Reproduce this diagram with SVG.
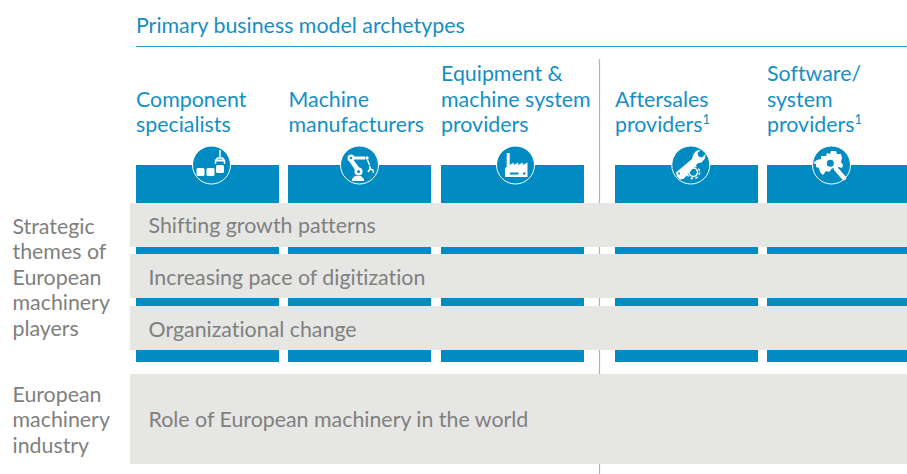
<svg xmlns="http://www.w3.org/2000/svg" width="907" height="474" viewBox="0 0 907 474">
<style>
text{font-family:Lato,"Open Sans","Liberation Sans",sans-serif;font-size:21.36px;font-variant-ligatures:none}
.h{fill:#1490c6}
.g{fill:#808080}
.b{fill:#008cc2}
.band{fill:#e6e6e4}
.disc{fill:#008cc2;stroke:#fff;stroke-width:1}
.w{fill:#fff}
.ws{fill:none;stroke:#fff;stroke-width:1.500}
.sup{font-size:13px}
</style>
<rect width="907" height="474" fill="#fff"/>
<g id="connectors">
<line x1="136" y1="46.500" x2="907" y2="46.500" stroke="#2ba0d0" stroke-width="1"/>
<line x1="599.500" y1="59" x2="599.500" y2="474" stroke="#b2b2b2" stroke-width="1.200"/>
</g>
<text class="h" x="136" y="33">Primary business model archetypes</text>
<g id="col1">
<rect class="b" x="136" y="165" width="143" height="197"/>
<text class="h" x="136" y="107">Component</text><text class="h" x="136" y="132">specialists</text>
<circle class="disc" cx="211.500" cy="165" r="19"/>
<rect class="w" x="196.500" y="168" width="8" height="8" rx="1.500"/><rect class="w" x="206.500" y="168" width="8" height="8" rx="1.500"/><rect class="w" x="216" y="165" width="8" height="8" rx="1.500"/>
<path class="ws" stroke-width="2" d="M220 150v7M215.500 164v-3l2-3h5l2 3v3"/>
<rect class="w" x="215" y="159.500" width="10" height="2"/>
</g>
<g id="col2">
<rect class="b" x="288" y="165" width="143" height="197"/>
<text class="h" x="288.500" y="107">Machine</text><text class="h" x="288.500" y="132">manufacturers</text>
<circle class="disc" cx="359.500" cy="165" r="19"/>
<path class="w" d="M352 181v-2l3-3h6l3 3v2zM350 156.500h15v3h-15zM348.500 160l3.500-2 9 12-4 3z"/>
<circle class="w" cx="351" cy="158" r="3.500"/><circle class="w" cx="358.500" cy="171.500" r="4"/><circle class="b" cx="358.500" cy="171.500" r="1.500"/><circle class="b" cx="351" cy="158" r="1.200"/>
<circle class="w" cx="367" cy="158" r="1.700"/><path class="ws" stroke-width="1.400" d="M367.500 160l2 5M369.500 166l1 3M368 172l2-3 3 1 .5 3"/>
</g>
<g id="col3">
<rect class="b" x="441" y="165" width="143" height="197"/>
<text class="h" x="441" y="81">Equipment &amp;</text><text class="h" x="441" y="106.500">machine system</text><text class="h" x="441" y="132">providers</text>
<circle class="disc" cx="515.500" cy="165" r="19"/>
<path class="w" d="M505 177v-9l1.700-1v-14h3v12l4-2.500v2.500l4.500-2.500v2.500l4.500-2.500v2.500l4.800-2.500v14.500z"/>
<rect class="b" x="510" y="172.500" width="8.500" height="2"/><rect class="b" x="523" y="172.500" width="2.500" height="2"/>
</g>
<g id="col4">
<rect class="b" x="615" y="165" width="143" height="197"/>
<text class="h" x="615" y="107">Aftersales</text><text class="h" x="615" y="132">providers<tspan class="sup" dy="-8">1</tspan></text>
<circle class="disc" cx="690.800" cy="165" r="19"/>
<path class="w" d="M676 172.500l16-13.500 1-4 3-4 5-1.500-3.500 3.500 1 3.500 3.500 1 3.500-3.500-.5 4.500-3.500 4-4 1-14 15.500-3.500 .5-3-3z"/>
<circle class="ws" cx="693.300" cy="172.300" r="4.200" stroke-width="2.500"/>
<circle class="ws" cx="693.300" cy="172.300" r="6.300" stroke-width="2" stroke-dasharray="2.500 2.450"/>
<circle class="b" cx="679" cy="173.500" r="1"/>
</g>
<g id="col5">
<rect class="b" x="767" y="165" width="140" height="197"/>
<text class="h" x="767" y="81">Software/</text><text class="h" x="767" y="106.500">system</text><text class="h" x="767" y="132">providers<tspan class="sup" dy="-8">1</tspan></text>
<circle class="disc" cx="831.500" cy="165" r="19"/>
<path class="w" d="M817 160l4-1 0-3 5 0 1-3 3 1 1-3 5 0 1 3 4 0 1 4-1 4 2 3-1 3-3-1-4 2-3-2-1 3-2 2-3-1-3 4-3-3-1-4-3-1 0-3-3-1z"/>
<path d="M836 169l8 9" stroke="#fff" stroke-width="4.500" stroke-linecap="round"/>
<circle cx="830.300" cy="163.300" r="4.500" fill="#008cc2" stroke="#fff" stroke-width="2"/>
<path d="M835.500 172l-1 2" stroke="#008cc2" stroke-width="1.500"/>
</g>
<g id="theme1"><rect class="band" x="130" y="203" width="777" height="44"/><text class="g" x="148.500" y="233">Shifting growth patterns</text></g>
<g id="theme2"><rect class="band" x="130" y="254" width="777" height="44"/><text class="g" x="148.500" y="285">Increasing pace of digitization</text></g>
<g id="theme3"><rect class="band" x="130" y="306" width="777" height="44"/><text class="g" x="148.500" y="337">Organizational change</text></g>
<g id="industry"><rect class="band" x="130" y="374" width="777" height="90"/><text class="g" x="148.500" y="427">Role of European machinery in the world</text></g>
<g id="label-themes"><text class="g" x="12.500" y="234">Strategic</text><text class="g" x="12.500" y="259">themes of</text><text class="g" x="12.500" y="285">European</text><text class="g" x="12.500" y="310">machinery</text><text class="g" x="12.500" y="336">players</text></g>
<g id="label-industry"><text class="g" x="12.500" y="402">European</text><text class="g" x="12.500" y="427">machinery</text><text class="g" x="12.500" y="453">industry</text></g>
</svg>
